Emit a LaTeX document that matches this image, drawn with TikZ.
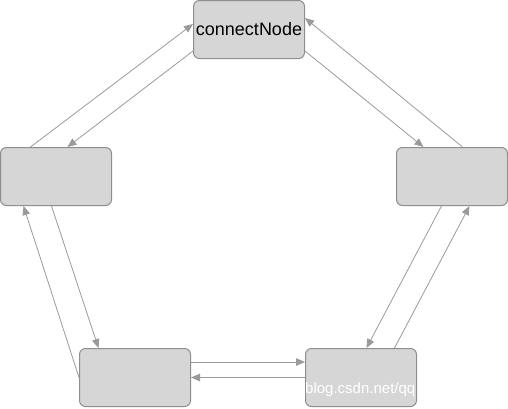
\documentclass[tikz,border=0pt]{standalone}
\usepackage{fontspec}
\setmainfont{Liberation Sans}
\usetikzlibrary{arrows.meta}
\definecolor{boxfill}{HTML}{D6D6D6}
\definecolor{boxline}{HTML}{8E8E8E}
\definecolor{conn}{HTML}{9A9A9A}
\begin{document}
\begin{tikzpicture}[x=1pt,y=-1pt,
  box/.style={draw=boxline,fill=boxfill,line width=1pt,rounded corners=6pt,
    minimum width=111pt,minimum height=58pt,inner sep=0pt,font=\fontsize{18}{20}\selectfont},
  link/.style={draw=conn,line width=0.8pt,-{Triangle[length=9pt,width=7.5pt]}}]
\useasboundingbox (0,0) rectangle (508,408);
\node[box] (T) at (249,29.5) {connectNode};
\node[box] (L) at (56,176.5) {};
\node[box] (R) at (452,176.5) {};
\node[box] (BL) at (135,377.5) {};
\node[box] (BR) at (361,377.5) {};
\draw[link] ([xshift=30.5pt]L.north west) -- ([yshift=5.5pt]T.west);
\draw[link] ([yshift=-21.5pt]T.west) -- ([xshift=67.5pt]L.north west);
\draw[link] ([yshift=-21.5pt]T.east) -- ([xshift=27.5pt]R.north west);
\draw[link] ([xshift=66.5pt]R.north west) -- ([yshift=11.5pt]T.east);
\draw[link] ([xshift=45.5pt]R.south west) -- ([xshift=61.5pt]BR.north west);
\draw[link] ([xshift=89.5pt]BR.north west) -- ([xshift=73.5pt]R.south west);
\draw[link] ([xshift=51.5pt]L.south west) -- ([xshift=19.5pt]BL.north west);
\draw[link] (BL.west) -- ([xshift=23.5pt]L.south west);
\draw[link] ([yshift=15.5pt]BL.east) -- ([yshift=15.5pt]BR.west);
\draw[link] (BR.west) -- (BL.east);
\node[anchor=base west,inner sep=0pt,text=white,font=\fontsize{15}{17}\selectfont] (wm) at (305,393) {blog.csdn.net/qq};
\end{tikzpicture}
\end{document}
